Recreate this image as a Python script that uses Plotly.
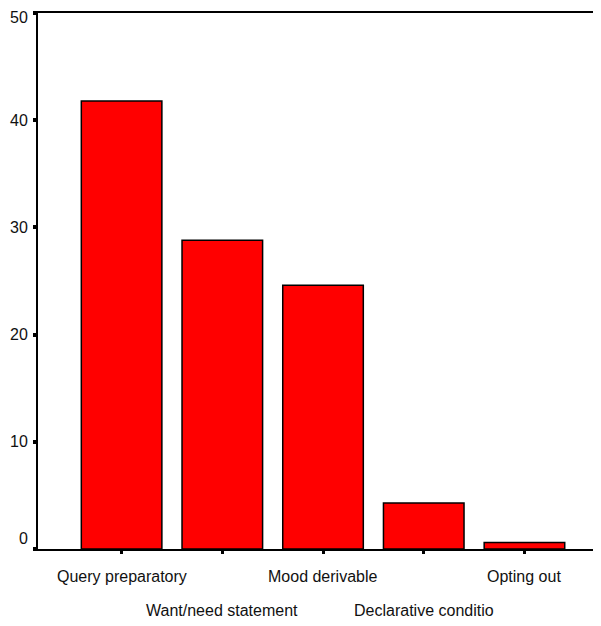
import plotly.graph_objects as go

categories = ["Query preparatory", "Want/need statement", "Mood derivable",
              "Declarative conditio", "Opting out"]
values = [41.8, 28.8, 24.6, 4.3, 0.6]
y_ticks = [0, 10, 20, 30, 40, 50]

FONT = "Liberation Sans, Arial, sans-serif"
FS = 16
TXT = "#111111"
idx = list(range(len(categories)))

fig = go.Figure()
fig.add_trace(go.Bar(
    x=idx, y=values, width=0.8,
    marker=dict(color="#FF0000", line=dict(color="black", width=1.5)),
))

# staggered category labels
for i, lab in zip(idx, categories):
    fig.add_annotation(
        x=i, y=0, xref="x", yref="y", text=lab, showarrow=False,
        yanchor="middle", yshift=-27 if i % 2 == 0 else -61,
        font=dict(family=FONT, size=FS, color=TXT),
    )

# y tick labels (end labels nudged inward like the original)
for v in y_ticks:
    shift = 11 if v == y_ticks[0] else (-4 if v == y_ticks[-1] else 0)
    fig.add_annotation(
        x=0, y=v, xref="paper", yref="y", text=str(v), showarrow=False,
        xanchor="right", yanchor="middle", xshift=-8, yshift=shift,
        font=dict(family=FONT, size=FS, color=TXT),
    )

# page body has an 8px margin, so the figure is shrunk accordingly
fig.update_layout(
    width=593, height=618,
    margin=dict(l=30, r=0, t=5, b=77),
    paper_bgcolor="white", plot_bgcolor="white",
    showlegend=False,
    font=dict(family=FONT, size=FS, color=TXT),
    bargap=0.2,
)
fig.update_xaxes(
    range=[-0.83, 4.76], tickvals=idx, ticktext=[""] * len(idx),
    showgrid=False, zeroline=False,
    showline=True, linecolor="black", linewidth=2, mirror=True,
    ticks="outside", ticklen=3, tickwidth=3, tickcolor="black",
)
fig.update_yaxes(
    range=[0, 50], tickvals=y_ticks, ticktext=[""] * len(y_ticks),
    showgrid=False, zeroline=False,
    showline=True, linecolor="black", linewidth=2,
    ticks="outside", ticklen=3, tickwidth=4, tickcolor="black",
)

fig.write_html("out.html")
